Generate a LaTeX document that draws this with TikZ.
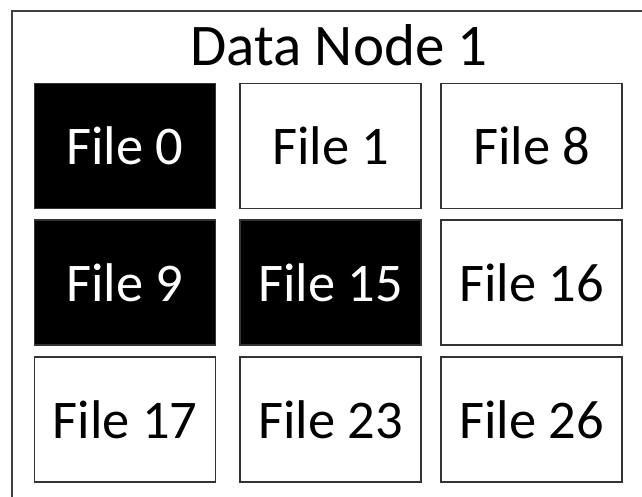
\documentclass[tikz,border=0pt]{standalone}
\usepackage{fontspec}
\setmainfont{Carlito}
\usepackage{tikz}
\usetikzlibrary{positioning}

\begin{document}
\begin{tikzpicture}[
	x=1pt, y=1pt,
	file/.style={
		draw=black!80,
		line width=1.8pt,
		minimum width=181pt,
		minimum height=125pt,
		inner sep=0pt,
		font=\fontsize{54.5}{62}\selectfont
	},
	stored/.style={
		file,
		fill=black,
		text=white
	}
]

\useasboundingbox (0,0) rectangle (642,-497);

% frame of the data node
\draw[black!75, line width=1.8pt] (12,-11) rectangle (660,-520);

\node[
	anchor=base,
	inner sep=0pt,
	font=\fontsize{59}{68}\selectfont
] (title) at (339,-66) {Data Node 1};

\node[
	stored
] (file0) at (125,-146) {File 0};

\node[
	file,
	right=23pt of file0
] (file1) {File 1};

\node[
	file,
	right=18pt of file1
] (file8) {File 8};

\node[
	stored,
	below=10pt of file0
] (file9) {File 9};

\node[
	stored,
	below=10pt of file1
] (file15) {File 15};

\node[
	file,
	below=10pt of file8
] (file16) {File 16};

\node[
	file,
	below=10pt of file9
] (file17) {File 17};

\node[
	file,
	below=10pt of file15
] (file23) {File 23};

\node[
	file,
	below=10pt of file16
] (file26) {File 26};

\end{tikzpicture}
\end{document}
